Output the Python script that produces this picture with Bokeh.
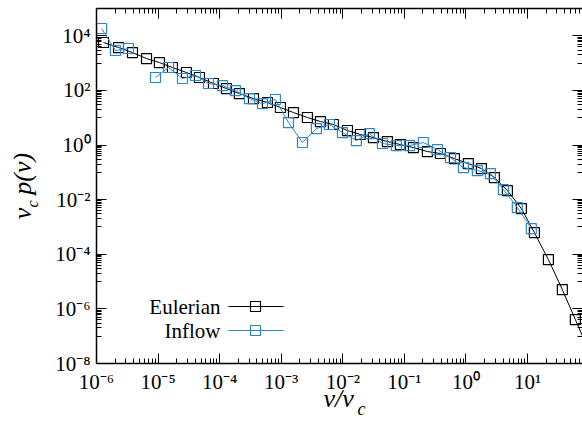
import math
from bokeh.plotting import figure
from bokeh.models import FixedTicker, LogAxis, Label, Range1d, CustomJSTickFormatter, Title
from bokeh.embed import file_html
from bokeh.resources import INLINE

# ---------------- data ----------------
euler_v = [1.30e-6, 2.28e-6, 3.84e-6, 6.49e-6, 1.05e-5, 1.71e-5, 2.89e-5, 4.70e-5,
           7.93e-5, 1.29e-4, 2.09e-4, 3.54e-4, 5.97e-4, 9.70e-4, 1.58e-3, 2.66e-3,
           4.33e-3, 7.03e-3, 1.19e-2, 1.93e-2, 3.14e-2, 5.30e-2, 8.61e-2, 0.140,
           0.236, 0.384, 0.649, 1.09, 1.78, 2.89, 4.70, 7.93, 12.9, 21.8, 36.7, 59.7, 100.0]
euler_p = [5.69e3, 3.72e3, 2.44e3, 1.47e3, 1.05e3, 690.0, 453.0, 297.0,
           179.0, 117.0, 76.9, 50.5, 36.1, 23.7, 15.5, 10.2,
           7.26, 5.64, 3.40, 2.43, 1.88, 1.34, 1.04, 0.809,
           0.578, 0.489, 0.320, 0.210, 0.138, 0.0646, 0.0215, 4.72e-3, 6.24e-4,
           6.40e-5, 5.09e-6, 4.06e-7, 2.75e-8]

inflow_v = [1.21e-6, 2.03e-6, 3.30e-6, 5.38e-6, 9.08e-6, 1.48e-5, 2.49e-5, 4.05e-5,
            6.58e-5, 1.11e-4, 1.80e-4, 3.05e-4, 4.95e-4, 8.05e-4, 1.31e-3, 2.21e-3,
            3.72e-3, 6.05e-3, 9.86e-3, 1.66e-2, 2.70e-2, 4.40e-2, 7.41e-2, 0.121,
            0.203, 0.344, 0.558, 0.908, 1.53, 2.49, 4.05, 6.82, 11.5]
inflow_p = [1.85e4, 2.90e3, 3.43e3, float("nan"), 297.0, 690.0, 273.0, 352.0,
            179.0, 151.0, 99.1, 50.5, 33.1, 46.5, 6.67, 1.24,
            4.02, 5.64, 2.87, 1.46, 2.64, 1.14, 0.959, 0.959,
            1.24, 0.684, 0.348, 0.150, 0.116, 0.0904, 0.0234, 5.14e-3, 8.73e-4]

series_names = ["Eulerian", "Inflow"]
x_major_ticks = [1e-6, 1e-5, 1e-4, 1e-3, 1e-2, 1e-1, 1e0, 1e1]
y_major_ticks = [1e-8, 1e-6, 1e-4, 1e-2, 1e0, 1e2, 1e4]
x_tick_labels = ["10\u207b\u2076", "10\u207b\u2075", "10\u207b\u2074", "10\u207b\u00b3",
                 "10\u207b\u00b2", "10\u207b\u00b9", "10\u2070", "10\u00b9"]
y_tick_labels = ["10\u207b\u2078", "10\u207b\u2076", "10\u207b\u2074", "10\u207b\u00b2",
                 "10\u2070", "10\u00b2", "10\u2074"]

# ---------------- layout / style ----------------
X_MIN, X_MAX = 1e-6, 78.0
Y_MIN, Y_MAX = 1e-8, 1e5
W, H = 582, 427
B_LEFT, B_TOP, B_BOTTOM = 96, 8, 64
FONT = "Liberation Serif"
BLUE = "#2f86c6"
NB = "\u00a0"

x_minor_ticks = [k * 10.0 ** e for e in range(-6, 2) for k in range(2, 10)]
y_minor_ticks = [k * 10.0 ** e for e in (-7, -5, -3, -1, 1, 3) for k in range(1, 10)]

# canvas-pixel -> data helpers (for placing the legend inside the frame)
FX0, FX1 = B_LEFT, W
FY0, FY1 = B_TOP, H - B_BOTTOM
LX0, LX1 = math.log10(X_MIN), math.log10(X_MAX)
LY0, LY1 = math.log10(Y_MIN), math.log10(Y_MAX)


def dx(px):
    return 10 ** (LX0 + (px - FX0) / (FX1 - FX0) * (LX1 - LX0))


def dy(py):
    return 10 ** (LY1 - (py - FY0) / (FY1 - FY0) * (LY1 - LY0))


p = figure(width=W, height=H, x_axis_type="log", y_axis_type="log",
           x_range=Range1d(X_MIN, X_MAX), y_range=Range1d(Y_MIN, Y_MAX),
           output_backend="svg", toolbar_location=None,
           min_border_left=B_LEFT, min_border_right=0,
           min_border_top=B_TOP, min_border_bottom=B_BOTTOM,
           background_fill_color="white", border_fill_color="white")
p.grid.visible = False
p.outline_line_color = None

lab_code = """
let best = 0, bd = 1e9;
for (let k = 0; k < vals.length; k++) {
  const d = Math.abs(Math.log10(vals[k]) - Math.log10(tick));
  if (d < bd) { bd = d; best = k; }
}
return labs[best];
"""
blank_code = "return '';"


def style_axis(ax, vals=None, labs=None):
    ax.axis_line_color = "black"
    ax.axis_line_width = 1.5
    ax.major_tick_line_color = "black"
    ax.minor_tick_line_color = "black"
    ax.major_tick_line_width = 1
    ax.minor_tick_line_width = 1
    ax.major_tick_in = 10
    ax.major_tick_out = 0
    ax.minor_tick_in = 5
    ax.minor_tick_out = 0
    if labs is not None:
        ax.formatter = CustomJSTickFormatter(args=dict(vals=vals, labs=labs), code=lab_code)
        ax.major_label_text_font = FONT
        ax.major_label_text_font_size = "21px"
        ax.major_label_text_color = "black"
        ax.major_label_standoff = 6
    else:
        ax.formatter = CustomJSTickFormatter(code=blank_code)
        ax.major_label_text_font_size = "1px"
        ax.major_label_standoff = 0


p.xaxis.ticker = FixedTicker(ticks=x_major_ticks, minor_ticks=x_minor_ticks)
p.yaxis.ticker = FixedTicker(ticks=y_major_ticks, minor_ticks=y_minor_ticks)
style_axis(p.xaxis[0], x_major_ticks, x_tick_labels)
style_axis(p.yaxis[0], y_major_ticks, y_tick_labels)

top = LogAxis(ticker=FixedTicker(ticks=x_major_ticks, minor_ticks=x_minor_ticks))
style_axis(top)
p.add_layout(top, "above")
right = LogAxis(ticker=FixedTicker(ticks=y_major_ticks, minor_ticks=y_minor_ticks))
style_axis(right)
right.axis_line_color = None
p.add_layout(right, "right")

# ---------------- series ----------------
p.line(euler_v, euler_p, line_color="black", line_width=1)
p.scatter(euler_v, euler_p, marker="square", size=10, fill_color=None,
          line_color="black", line_width=1.2)
p.line(inflow_v, inflow_p, line_color=BLUE, line_width=1)
p.scatter(inflow_v, inflow_p, marker="square", size=10, fill_color=None,
          line_color=BLUE, line_width=1.2)

# ---------------- legend (text left, sample right) ----------------
leg_rows = [(series_names[0], "black", 306), (series_names[1], BLUE, 330)]
for name, col, py in leg_rows:
    p.add_layout(Label(x=dx(220), y=dy(py), text=name, text_align="right",
                       text_baseline="middle", text_font=FONT,
                       text_font_size="21px", text_color="black"))
    p.line([dx(228), dx(283)], [dy(py), dy(py)], line_color=col, line_width=1)
    p.scatter([dx(255)], [dy(py)], marker="square", size=10, fill_color=None,
              line_color=col, line_width=1.2)

# ---------------- axis titles (composed, with subscript c) ----------------
AX_FS = "26px"


def ttl(text, size, **kw):
    return Title(text=text, text_font=FONT, text_font_style="italic",
                 text_font_size=size, text_color="black", **kw)


# x title: v/v_c  (rows stacked below the x axis)
p.add_layout(ttl("v/v", AX_FS, align="left", offset=227,
                 vertical_align="bottom", standoff=-29), "below")
p.add_layout(ttl("c", "18px", align="left", offset=261,
                 vertical_align="bottom", standoff=-3), "below")

# y title: v_c p(v) -- subscript as the axis label, the rest as a title row
p.yaxis[0].axis_label = "c" + NB * 9
p.yaxis[0].axis_label_text_font = FONT
p.yaxis[0].axis_label_text_font_style = "italic"
p.yaxis[0].axis_label_text_font_size = "16px"
p.yaxis[0].axis_label_text_color = "black"
p.yaxis[0].axis_label_standoff = 11
p.add_layout(ttl("v" + NB + NB + "p(v)", AX_FS, align="center",
                 vertical_align="bottom", standoff=-30), "left")

open("out.html", "w").write(file_html(p, INLINE))
